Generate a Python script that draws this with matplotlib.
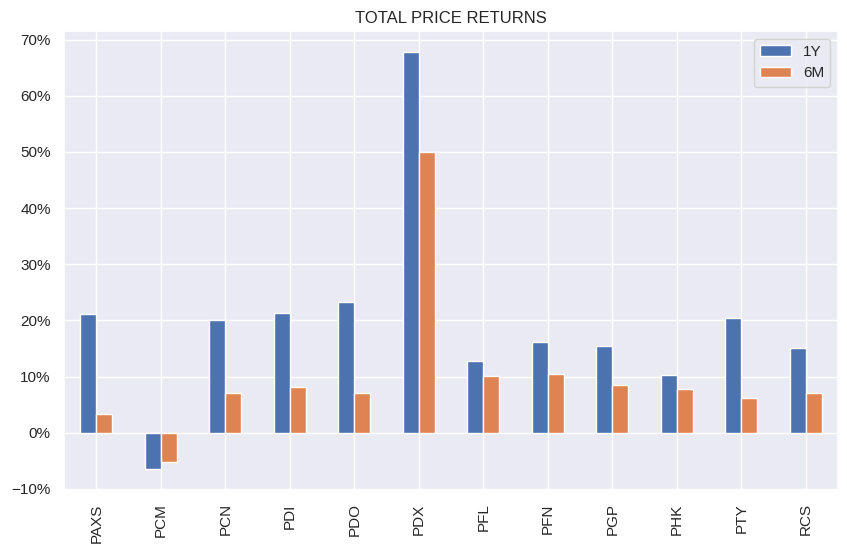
import matplotlib
matplotlib.use("Agg")
import matplotlib.pyplot as plt
import pandas as pd
import seaborn as sns
from matplotlib.ticker import PercentFormatter

tickers = ["PAXS", "PCM", "PCN", "PDI", "PDO", "PDX", "PFL", "PFN", "PGP", "PHK", "PTY", "RCS"]
ret_1y = [21.1, -6.5, 20.0, 21.3, 23.2, 67.8, 12.8, 16.2, 15.4, 10.3, 20.4, 15.1]
ret_6m = [3.4, -5.3, 7.1, 8.2, 7.1, 49.9, 10.1, 10.5, 8.5, 7.7, 6.1, 7.1]

sns.set_theme()
plt.rcParams["font.family"] = ["Liberation Sans", "DejaVu Sans"]

df = pd.DataFrame({"1Y": ret_1y, "6M": ret_6m}, index=tickers) / 100.0

fig, ax = plt.subplots(figsize=(8.47, 5.55), dpi=100)
fig.subplots_adjust(left=0.0756, right=0.9894, top=0.944, bottom=0.117)

df.plot.bar(ax=ax, rot=90)
ax.yaxis.set_major_formatter(PercentFormatter(1.0, decimals=0))
ax.set_title("TOTAL PRICE RETURNS")
ax.legend(loc="upper right")

fig.savefig("out.png", dpi=100)
